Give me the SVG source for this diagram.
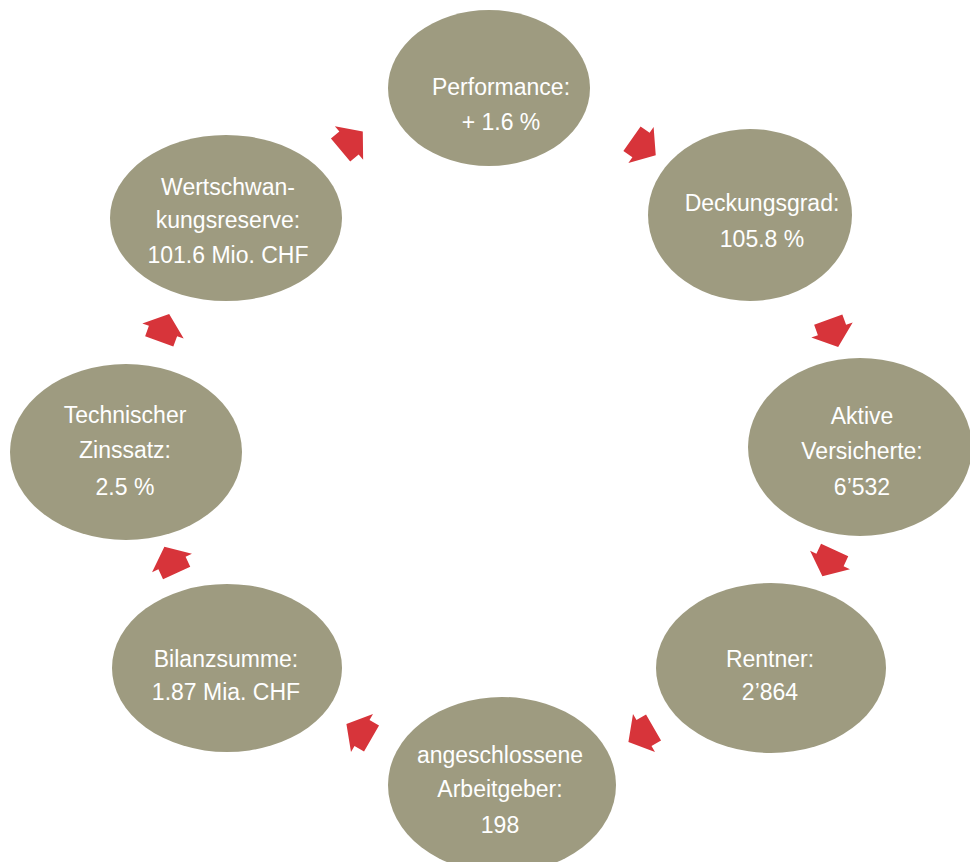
<svg xmlns="http://www.w3.org/2000/svg" width="970" height="862" viewBox="0 0 970 862">
<defs>
<style>
.n{fill:#9e9b80}
.t{fill:#ffffff;font-family:"Liberation Sans",Arial,sans-serif;font-size:23px;text-anchor:middle}
.a{fill:#d7343a}
</style>
<polygon id="arr" points="0,-18 22,0 15,0 15,11 -15,11 -15,0 -22,0"/>
</defs>
<rect width="970" height="862" fill="#ffffff"/>
<g id="connectors" class="a">
<use href="#arr" transform="translate(349,143) rotate(50)"/>
<use href="#arr" transform="translate(641,145) rotate(125)"/>
<use href="#arr" transform="translate(832,330) rotate(160)"/>
<use href="#arr" transform="translate(830,560) rotate(205)"/>
<use href="#arr" transform="translate(644,733) rotate(240)"/>
<use href="#arr" transform="translate(362,733) rotate(300)"/>
<use href="#arr" transform="translate(172,563) rotate(335)"/>
<use href="#arr" transform="translate(163,331) rotate(20)"/>
</g>
<g id="performance">
<ellipse class="n" cx="489" cy="88" rx="101" ry="78"/>
<text class="t" x="501" y="95">Performance:</text>
<text class="t" x="501" y="130">+ 1.6 %</text>
</g>
<g id="deckungsgrad">
<ellipse class="n" cx="750" cy="215" rx="102" ry="86"/>
<text class="t" x="762" y="211">Deckungsgrad:</text>
<text class="t" x="762" y="247">105.8 %</text>
</g>
<g id="aktive">
<ellipse class="n" cx="860" cy="447" rx="112" ry="89"/>
<text class="t" x="862" y="424">Aktive</text>
<text class="t" x="862" y="459">Versicherte:</text>
<text class="t" x="862" y="495">6’532</text>
</g>
<g id="rentner">
<ellipse class="n" cx="771" cy="668" rx="115" ry="85"/>
<text class="t" x="770" y="667">Rentner:</text>
<text class="t" x="770" y="700">2’864</text>
</g>
<g id="arbeitgeber">
<ellipse class="n" cx="502" cy="785" rx="114" ry="88"/>
<text class="t" x="500" y="763">angeschlossene</text>
<text class="t" x="500" y="797">Arbeitgeber:</text>
<text class="t" x="500" y="833">198</text>
</g>
<g id="bilanzsumme">
<ellipse class="n" cx="227" cy="668" rx="115" ry="84"/>
<text class="t" x="226" y="667">Bilanzsumme:</text>
<text class="t" x="226" y="700">1.87 Mia. CHF</text>
</g>
<g id="zinssatz">
<ellipse class="n" cx="126" cy="452" rx="116" ry="88"/>
<text class="t" x="125" y="423">Technischer</text>
<text class="t" x="125" y="458">Zinssatz:</text>
<text class="t" x="125" y="495">2.5 %</text>
</g>
<g id="wertschwankungsreserve">
<ellipse class="n" cx="226" cy="218" rx="116" ry="83"/>
<text class="t" x="228" y="195">Wertschwan-</text>
<text class="t" x="228" y="228">kungsreserve:</text>
<text class="t" x="228" y="263">101.6 Mio. CHF</text>
</g>
</svg>
